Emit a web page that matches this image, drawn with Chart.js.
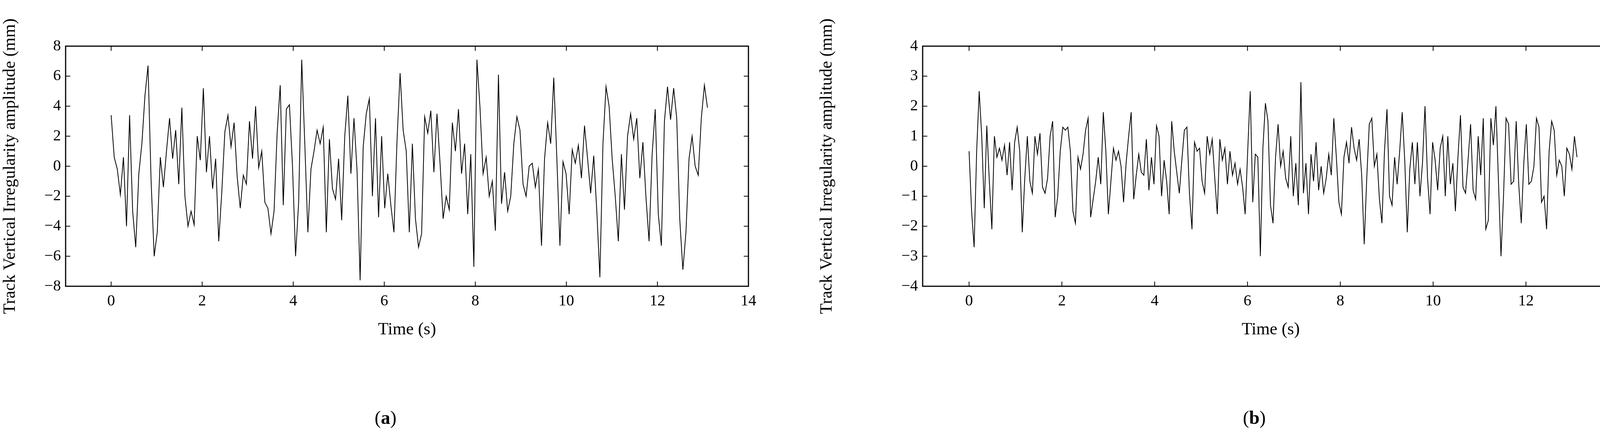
<!DOCTYPE html>
<html>
<head>
<meta charset="utf-8">
<script src="https://cdn.jsdelivr.net/npm/chart.js@4.4.1/dist/chart.umd.min.js"></script>
<style>
  html, body { margin: 0; padding: 0; background: #fff; overflow: hidden; }
  body { width: 4182px; height: 1120px; position: relative; }
  canvas { position: absolute; top: 0; }
  .lab { position: absolute; top: 1040px; font: 48px "Liberation Serif", serif; transform: translateX(-50%); }
</style>
</head>
<body>
<canvas id="graph-a" width="2091" height="1120" style="left:0;width:2091px;height:1120px"></canvas>
<canvas id="graph-b" width="2091" height="1120" style="left:2091px;width:2091px;height:1120px"></canvas>
<div class="lab" style="left:987px">(<b>a</b>)</div>
<div class="lab" style="left:3211px">(<b>b</b>)</div>
<script>
const tEnd = 13.1;
const xTicks = [0, 2, 4, 6, 8, 10, 12, 14];
const yTicksA = [-8, -6, -4, -2, 0, 2, 4, 6, 8];
const yTicksB = [-4, -3, -2, -1, 0, 1, 2, 3, 4];

// amplitude (mm), samples
const valuesA = [3.4, 0.6, -0.2, -1.9, 0.6, -4.0, 3.4, -3.0, -5.4, -0.5, 1.5, 4.7, 6.7, -1.0, -6.0, -4.4, 0.6, -1.4,
  1.0, 3.2, 0.5, 2.4, -1.2, 3.9, -2.0, -4.0, -3.0, -3.9, 2.0, 0.4, 5.2, -0.4, 2.0, -1.5, 0.5, -5.0, -1.7, 2.3, 3.4,
  1.3, 2.9, -0.7, -2.8, -0.6, -1.2, 3.0, 0.5, 4.0, -0.1, 1.0, -2.4, -2.8, -4.5, -3.0, 2.2, 5.4, -2.6, 3.8, 4.1, 0.0,
  -6.0, -2.4, 7.1, 1.5, -4.4, -0.2, 1.0, 2.4, 1.5, 2.6, -4.4, 1.8, -1.5, -2.2, 0.5, -3.6, 2.0, 4.7, -0.5, 3.2, -0.3,
  -7.6, 1.3, 3.5, 4.5, -2.0, 3.2, -3.4, 2.0, -2.8, -0.5, -2.6, -4.4, 1.7, 6.2, 2.4, 1.0, -4.4, 1.5, -3.5, -5.4, -4.5,
  3.3, 2.2, 3.7, -0.4, 3.5, 0.2, -3.5, -2.0, -2.9, 2.9, 1.0, 3.8, -0.5, 1.5, -3.2, 0.8, -6.7, 7.1, 3.9, -0.5, 0.6,
  -2.0, -1.0, -4.3, 6.1, -2.5, -0.4, -3.0, -2.0, 1.5, 3.3, 2.4, -1.2, -2.0, 0.0, 0.2, -1.4, -0.2, -5.3, 0.5, 2.9, 1.5,
  5.9, 0.5, -5.3, 0.3, -0.5, -3.2, 1.1, 0.2, 1.4, -0.8, 2.7, 0.5, -1.8, 0.7, -3.0, -7.4, 1.5, 5.3, 4.0, 0.5, -2.0,
  -5.0, 0.8, -2.9, 2.0, 3.5, 1.8, 3.2, -0.8, 1.6, -2.1, -5.0, 0.8, 3.8, -3.2, -5.3, 3.0, 5.3, 3.1, 5.2, 3.2, -3.6,
  -6.9, -4.4, 0.5, 2.0, 0.0, -0.6, 3.2, 5.4, 3.9];

// amplitude (mm), samples
const valuesB = [0.5, -1.5, -2.7, 0.5, 2.5, 1.0, -1.4, 1.35, -0.5, -2.1, 1.0, 0.3, 0.6, 0.2, 0.7, -0.3, 0.8, -0.8,
  0.8, 1.3, 0.5, -2.2, -0.4, 1.0, -0.5, -0.9, 1.0, 0.4, 1.1, -0.7, -0.9, -0.4, 1.0, 1.5, -1.7, -1.0, 0.5, 1.3, 1.2,
  1.3, 0.5, -1.5, -1.9, 0.3, -0.1, 0.4, 1.2, 1.6, -1.7, -1.1, -0.5, 0.3, -0.6, 1.8, 0.5, -1.6, -0.5, 0.6, 0.2, 0.5,
  0.0, -1.2, 0.1, 1.0, 1.8, -1.1, -0.3, 0.4, -0.2, -0.3, 0.9, -0.8, 0.3, -0.6, 1.35, 1.0, -1.0, 0.2, -0.5, -1.6, 1.5,
  0.5, -0.2, -0.9, 0.2, 1.2, 1.3, -0.9, -2.1, 0.8, 0.5, 0.6, -0.5, -0.9, 1.0, 0.4, 0.9, -0.4, -1.6, 0.9, 0.2, 0.6,
  -0.6, 0.5, -0.3, 0.1, -0.6, -0.1, -0.7, -1.6, 0.5, 2.5, -1.2, 0.4, 0.3, -3.0, 0.6, 2.1, 1.5, -1.3, -1.9, 0.3, 1.4,
  0.0, 0.5, -0.4, -0.7, 1.0, -1.0, 0.1, -1.3, 2.8, -0.9, 0.1, -1.6, 0.4, -0.5, 0.8, -0.8, 0.0, -0.9, -0.4, 0.4, -0.3,
  1.6, 0.3, -1.2, -1.6, 0.3, 0.8, 0.1, 1.3, 0.6, 0.2, 0.9, -0.3, -2.6, -0.4, 1.4, 1.6, 0.0, 0.4, -1.1, -1.9, 0.5,
  1.9, -1.0, -1.3, 0.3, -0.6, 0.5, 1.8, 0.2, -2.2, -0.1, 0.8, -0.6, 0.8, -1.0, 0.1, 2.0, -0.4, -1.6, 0.8, 0.2, -0.8,
  0.6, 1.0, -1.0, 1.0, -0.6, 0.1, -1.5, 0.3, 1.7, -0.7, -0.9, 0.2, 1.4, -0.8, -1.1, 1.0, -0.3, 1.6, -2.1, -1.8, 1.6,
  0.7, 2.0, -0.5, -3.0, -1.0, 1.6, 1.4, -0.6, -0.5, 1.5, -0.6, -1.9, 0.1, 1.4, -0.6, -0.5, 0.0, 1.6, 1.3, -1.2, -1.0,
  -2.1, 0.5, 1.5, 1.2, -0.3, 0.2, 0.0, -1.0, 0.6, 0.4, -0.1, 1.0, 0.3];

// sample times, evenly spaced over the record
const toPoints = (vals) => vals.map((v, i) => ({ x: i * tEnd / (vals.length - 1), y: v }));

const FONT = "Liberation Serif";

// frame + inward ticks on all four sides
const framePlugin = {
  id: "frame",
  afterDraw(chart) {
    const { ctx, chartArea: a, scales } = chart;
    ctx.save();
    ctx.strokeStyle = "#000";
    ctx.lineWidth = 3;
    ctx.strokeRect(a.left, a.top, a.right - a.left, a.bottom - a.top);
    ctx.lineWidth = 2;
    const L = 12;
    scales.x.ticks.forEach((t) => {
      const px = scales.x.getPixelForValue(t.value);
      ctx.beginPath();
      ctx.moveTo(px, a.bottom); ctx.lineTo(px, a.bottom - L);
      ctx.moveTo(px, a.top); ctx.lineTo(px, a.top + L);
      ctx.stroke();
    });
    scales.y.ticks.forEach((t) => {
      const py = scales.y.getPixelForValue(t.value);
      ctx.beginPath();
      ctx.moveTo(a.left, py); ctx.lineTo(a.left + L, py);
      ctx.moveTo(a.right, py); ctx.lineTo(a.right - L, py);
      ctx.stroke();
    });
    ctx.restore();
  },
};

function makeChart(id, values, yTicks, leftW, rightPad) {
  const ctx = document.getElementById(id).getContext("2d");
  return new Chart(ctx, {
    type: "line",
    data: {
      datasets: [{
        data: toPoints(values),
        borderColor: "#000",
        borderWidth: 2,
        pointRadius: 0,
        tension: 0,
      }],
    },
    options: {
      responsive: false,
      devicePixelRatio: 1,
      animation: false,
      layout: { padding: { top: 118, right: rightPad, bottom: 250, left: 0 } },
      plugins: { legend: { display: false }, tooltip: { enabled: false } },
      scales: {
        x: {
          type: "linear",
          min: -1, max: 14,
          afterBuildTicks: (s) => { s.ticks = xTicks.map((v) => ({ value: v })); },
          afterFit: (s) => { s.height = 138; },
          grid: { display: false, drawTicks: false },
          border: { display: false },
          ticks: { color: "#000", font: { family: FONT, size: 40 }, padding: 14, maxRotation: 0 },
          title: { display: true, text: "Time (s)", color: "#000", font: { family: FONT, size: 44 }, padding: 0 },
        },
        y: {
          min: yTicks[0], max: yTicks[yTicks.length - 1],
          afterBuildTicks: (s) => { s.ticks = yTicks.map((v) => ({ value: v })); },
          afterFit: (s) => { s.width = leftW; },
          grid: { display: false, drawTicks: false },
          border: { display: false },
          ticks: {
            color: "#000", font: { family: FONT, size: 40 }, padding: 12,
            callback: (v) => (v < 0 ? "\u2212" + Math.abs(v) : String(v)),
          },
          title: {
            display: true, text: "Track Vertical Irregularity amplitude (mm)",
            color: "#000", font: { family: FONT, size: 44 }, padding: { top: 0, bottom: 0 },
          },
        },
      },
    },
    plugins: [framePlugin],
  });
}

const chartA = makeChart("graph-a", valuesA, yTicksA, 168, 175);
const chartB = makeChart("graph-b", valuesB, yTicksB, 271, 38);
</script>
</body>
</html>
